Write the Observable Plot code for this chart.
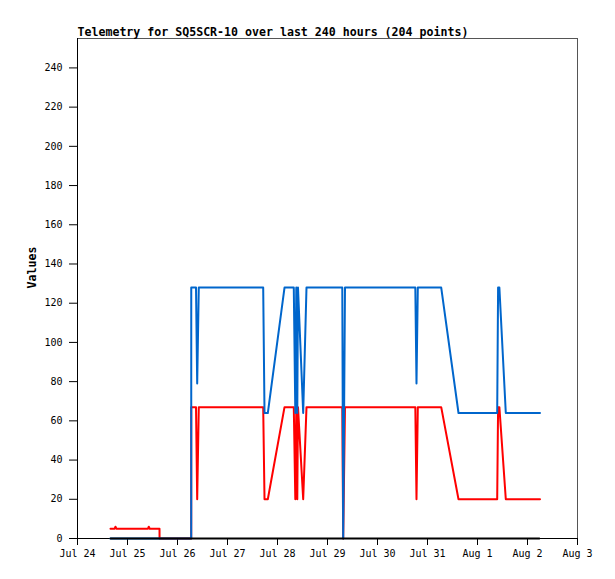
<!DOCTYPE html>
<html>
<head>
<meta charset="utf-8">
<script src="https://cdn.jsdelivr.net/npm/d3@7"></script>
<script src="https://cdn.jsdelivr.net/npm/@observablehq/plot@0.6"></script>
<style>
  html, body { margin: 0; padding: 0; background: #fff; }
  #chart { width: 615px; height: 579px; }
</style>
</head>
<body>
<div id="chart"></div>
<script>
const titleText = "Telemetry for SQ5SCR-10 over last 240 hours (204 points)";
const yLabel = "Values";
const xDomain = ["2023-07-24T00:00", "2023-08-03T00:00"];
const xTickLabels = ["2023-07-24T00:00","2023-07-25T00:00","2023-07-26T00:00","2023-07-27T00:00","2023-07-28T00:00","2023-07-29T00:00","2023-07-30T00:00","2023-07-31T00:00","2023-08-01T00:00","2023-08-02T00:00","2023-08-03T00:00"];
const yTickValues = [0,20,40,60,80,100,120,140,160,180,200,220,240];
const yDomain = [0, 255];

const blueTimes = ["2023-07-24T15:50","2023-07-26T06:35","2023-07-26T06:36","2023-07-26T08:53","2023-07-26T09:27","2023-07-26T10:13","2023-07-27T17:08","2023-07-27T17:46","2023-07-27T19:21","2023-07-28T03:22","2023-07-28T07:49","2023-07-28T08:33","2023-07-28T09:01","2023-07-28T09:30","2023-07-28T09:50","2023-07-28T12:20","2023-07-28T13:55","2023-07-29T07:06","2023-07-29T07:32","2023-07-29T08:24","2023-07-30T18:09","2023-07-30T18:43","2023-07-30T19:21","2023-07-31T06:35","2023-07-31T14:53","2023-08-01T09:27","2023-08-01T09:53","2023-08-01T10:30","2023-08-01T13:35","2023-08-02T06:00"];
const blueValues = [0,0,128,128,79,128,128,64,64,128,128,64,128,64,128,64,128,128,0,128,128,79,128,128,64,64,128,128,64,64];

const redTimes = ["2023-07-24T15:50","2023-07-24T17:50","2023-07-24T18:14","2023-07-24T18:40","2023-07-25T09:50","2023-07-25T10:13","2023-07-25T10:40","2023-07-25T15:22","2023-07-25T15:23","2023-07-26T06:35","2023-07-26T06:36","2023-07-26T08:53","2023-07-26T09:27","2023-07-26T10:13","2023-07-27T17:08","2023-07-27T17:46","2023-07-27T19:21","2023-07-28T03:22","2023-07-28T07:49","2023-07-28T08:33","2023-07-28T09:01","2023-07-28T09:30","2023-07-28T09:50","2023-07-28T12:20","2023-07-28T13:55","2023-07-29T07:06","2023-07-29T07:32","2023-07-29T08:24","2023-07-30T18:09","2023-07-30T18:43","2023-07-30T19:21","2023-07-31T06:35","2023-07-31T14:53","2023-08-01T09:27","2023-08-01T09:53","2023-08-01T10:30","2023-08-01T13:35","2023-08-02T06:00"];
const redValues = [5,5,6,5,5,6,5,5,0,0,67,67,20,67,67,20,20,67,67,20,67,20,67,20,67,67,0,67,67,20,67,67,20,20,67,67,20,20];

const blackTimes = ["2023-07-24T15:50","2023-08-02T05:40"];
const blackValues = [0,0];

const parse = d3.utcParse("%Y-%m-%dT%H:%M");
const toRows = (ts, vs) => ts.map((t, i) => ({t: parse(t), v: vs[i]}));
const blue = toRows(blueTimes, blueValues);
const red = toRows(redTimes, redValues);
const black = toRows(blackTimes, blackValues);
const x0 = parse(xDomain[0]);

const mono = "'DejaVu Sans Mono', 'Liberation Mono', monospace";

const chart = Plot.plot({
  width: 615,
  height: 579,
  marginLeft: 77,
  marginRight: 38,
  marginTop: 38,
  marginBottom: 41,
  style: {fontFamily: mono, fontSize: "10px", background: "#fff", color: "#000", overflow: "visible"},
  x: {type: "utc", domain: xDomain.map(parse)},
  y: {domain: yDomain},
  marks: [
    Plot.frame({stroke: "#555"}),
    Plot.axisY({ticks: yTickValues, tickSize: 8, tickPadding: 7, label: null, fontSize: 10}),
    Plot.axisX({ticks: xTickLabels.map(parse), tickFormat: d3.utcFormat("%b %-d"), tickSize: 7, tickPadding: 4, label: null, fontSize: 10}),
    Plot.ruleY([0], {stroke: "#000"}),
    Plot.ruleX([x0], {stroke: "#000"}),
    Plot.lineY(red, {x: "t", y: "v", stroke: "#ff0000", strokeWidth: 2}),
    Plot.lineY(blue, {x: "t", y: "v", stroke: "#0066cc", strokeWidth: 2}),
    Plot.lineY(black, {x: "t", y: "v", stroke: "#000000", strokeWidth: 2}),
    Plot.text([titleText], {frameAnchor: "top-left", textAnchor: "start", lineAnchor: "bottom", dy: -3, fontWeight: "bold", fontSize: 11.6, fill: "#000"}),
    Plot.text([yLabel], {frameAnchor: "left", dx: -45, rotate: -90, fontWeight: "bold", fontSize: 11.6, fill: "#000"})
  ]
});
document.getElementById("chart").appendChild(chart);
</script>
</body>
</html>
